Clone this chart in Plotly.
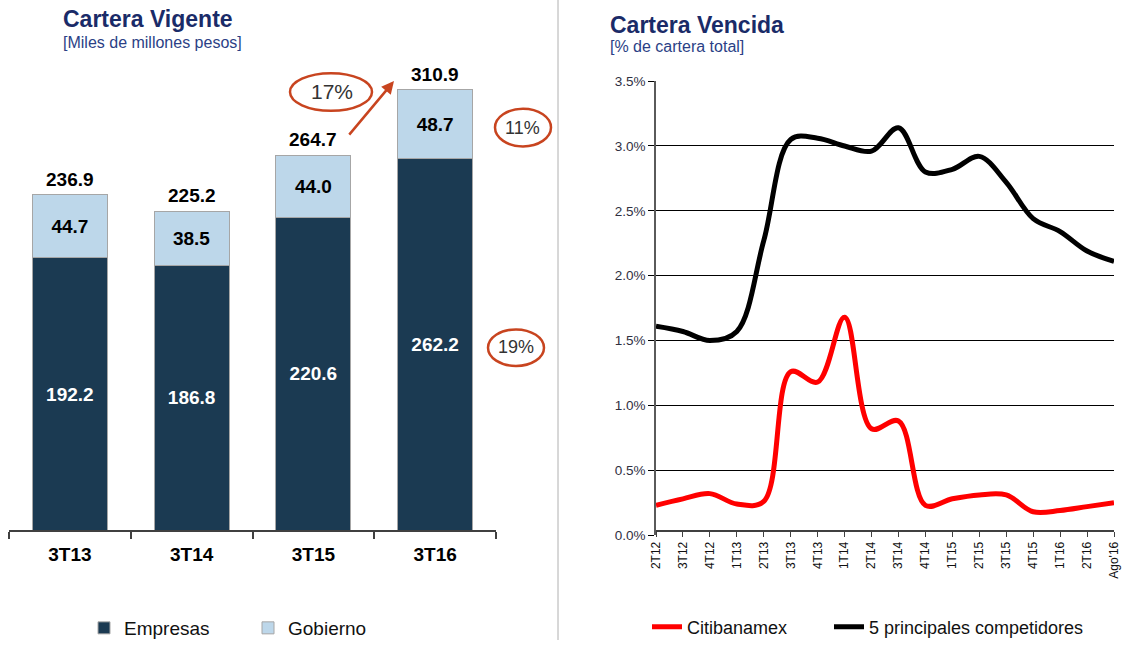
import plotly.graph_objects as go

# ---------------- data ----------------
quarters = ["3T13", "3T14", "3T15", "3T16"]
empresas = [192.2, 186.8, 220.6, 262.2]
gobierno = [44.7, 38.5, 44.0, 48.7]
totales = [236.9, 225.2, 264.7, 310.9]

periods = ["2T12", "3T12", "4T12", "1T13", "2T13", "3T13", "4T13", "1T14", "2T14",
           "3T14", "4T14", "1T15", "2T15", "3T15", "4T15", "1T16", "2T16", "Ago'16"]
citibanamex = [0.23, 0.28, 0.32, 0.24, 0.26, 1.26, 1.18, 1.68, 0.82,
               0.88, 0.23, 0.28, 0.31, 0.31, 0.18, 0.19, 0.22, 0.25]
competidores = [1.61, 1.57, 1.50, 1.57, 2.27, 3.05, 3.06, 3.00, 2.96,
                3.14, 2.80, 2.82, 2.92, 2.72, 2.44, 2.34, 2.19, 2.11]

y_ticks = [0.0, 0.5, 1.0, 1.5, 2.0, 2.5, 3.0, 3.5]

# ---------------- layout helpers ----------------
W, H = 1125, 647
def px(x):
    return x / W
def py(y):
    return 1 - y / H

FONT = "Liberation Sans, Arial, sans-serif"
DARK = "#1b3a52"
LIGHT = "#bdd7ea"
ORANGE = "#c8441f"
NAVY = "#1a2b68"
SUBNAVY = "#2b3f86"

fig = go.Figure()

# ---------------- left: stacked bars ----------------
fig.add_trace(go.Bar(
    x=quarters, y=empresas, name="Empresas",
    marker=dict(color=DARK, line=dict(color="#a6a6a6", width=1)),
    width=0.615,
    texttemplate="<b>%{y:.1f}</b>", textposition="inside", insidetextanchor="middle",
    textfont=dict(color="white", size=19, family=FONT), constraintext="none",
    xaxis="x", yaxis="y", legend="legend",
))
fig.add_trace(go.Bar(
    x=quarters, y=gobierno, name="Gobierno",
    marker=dict(color=LIGHT, line=dict(color="#a6a6a6", width=1)),
    width=0.615,
    texttemplate="<b>%{y:.1f}</b>", textposition="inside", insidetextanchor="middle",
    textfont=dict(color="black", size=19, family=FONT), constraintext="none",
    xaxis="x", yaxis="y", legend="legend",
))

annotations = []
for q, t in zip(quarters, totales):
    annotations.append(dict(
        x=q, y=t, xref="x", yref="y", text=f"<b>{t:.1f}</b>", showarrow=False,
        xanchor="center", yanchor="bottom", yshift=3,
        font=dict(size=19, color="black", family=FONT)))

# ---------------- right: lines ----------------
fig.add_trace(go.Scatter(
    x=periods, y=citibanamex, name="Citibanamex", mode="lines",
    line=dict(color="#ff0000", width=5, shape="spline", smoothing=1.0),
    xaxis="x2", yaxis="y2", legend="legend2",
))
fig.add_trace(go.Scatter(
    x=periods, y=competidores, name="5 principales competidores", mode="lines",
    line=dict(color="#000000", width=5, shape="spline", smoothing=1.0),
    xaxis="x2", yaxis="y2", legend="legend3",
))

# ---------------- titles ----------------
annotations += [
    dict(x=px(61), y=py(4), xref="paper", yref="paper", xanchor="left", yanchor="top",
         text="<b>Cartera Vigente</b>", showarrow=False,
         font=dict(size=23, color=NAVY, family=FONT)),
    dict(x=px(61), y=py(32), xref="paper", yref="paper", xanchor="left", yanchor="top",
         text="[Miles de millones pesos]", showarrow=False,
         font=dict(size=16, color=SUBNAVY, family=FONT)),
    dict(x=px(608), y=py(10), xref="paper", yref="paper", xanchor="left", yanchor="top",
         text="<b>Cartera Vencida</b>", showarrow=False,
         font=dict(size=23, color=NAVY, family=FONT)),
    dict(x=px(608), y=py(36), xref="paper", yref="paper", xanchor="left", yanchor="top",
         text="[% de cartera total]", showarrow=False,
         font=dict(size=16, color=SUBNAVY, family=FONT)),
]

# growth callouts
callouts = [("17%", 332, 92, 21), ("11%", 522, 129, 18), ("19%", 516, 351, 18)]
for txt, cx, cy, fs in callouts:
    annotations.append(dict(x=px(cx), y=py(cy), xref="paper", yref="paper",
                            xanchor="center", yanchor="middle",
                            text=txt, showarrow=False,
                            font=dict(size=fs, color="#333333", family=FONT)))
annotations.append(dict(x=px(394), y=py(82), xref="paper", yref="paper", text="",
                        showarrow=True, ax=-46, ay=55, arrowhead=2, arrowsize=1,
                        arrowwidth=2.5, arrowcolor=ORANGE))

shapes = [
    dict(type="circle", xref="paper", yref="paper",
         x0=px(290), x1=px(372), y0=py(112), y1=py(74), line=dict(color=ORANGE, width=2.5)),
    dict(type="circle", xref="paper", yref="paper",
         x0=px(495), x1=px(551), y0=py(148), y1=py(110), line=dict(color=ORANGE, width=2.5)),
    dict(type="circle", xref="paper", yref="paper",
         x0=px(488), x1=px(544), y0=py(370), y1=py(333), line=dict(color=ORANGE, width=2.5)),
    dict(type="line", xref="paper", yref="paper",
         x0=px(558), x1=px(558), y0=0, y1=1, line=dict(color="#b0b0b0", width=1)),
]

# ---------------- axes ----------------
base_px, top_px, dom_top = 536, 90.7, 60     # baseline, top of tallest bar, top of area
k_left = (base_px - top_px) / max(totales)
leg = dict(orientation="h", yanchor="middle", xanchor="left",
           bgcolor="rgba(0,0,0,0)", traceorder="normal")
fig.update_layout(
    width=W, height=H, autosize=False,
    margin=dict(l=0, r=0, t=0, b=0, pad=0),
    paper_bgcolor="white", plot_bgcolor="white",
    barmode="stack",
    font=dict(family=FONT, color="black"),
    xaxis=dict(domain=[px(9), px(496)], type="category", range=[-0.5, 3.5],
               showline=True, linecolor="#404040", linewidth=1.5,
               ticks="outside", tickson="boundaries", ticklen=7, tickwidth=1.5,
               tickcolor="#404040", showgrid=False, zeroline=False, automargin=False,
               tickfont=dict(size=19, color="black", family=FONT, weight="bold"),
               ticklabelstandoff=6, fixedrange=True),
    yaxis=dict(domain=[py(base_px), py(dom_top)],
               range=[0, (base_px - dom_top) / k_left],
               visible=False, showgrid=False, zeroline=False, automargin=False),
    xaxis2=dict(domain=[px(656), px(1114)], type="category", range=[0, 17],
                showline=True, linecolor="#404040", linewidth=1.5,
                ticks="outside", ticklen=5, tickwidth=1, tickcolor="#404040",
                tickangle=-90, showgrid=False, zeroline=False, automargin=False,
                tickfont=dict(size=12, color="#111111", family=FONT)),
    yaxis2=dict(domain=[py(541), py(82)], range=[0, 3.5], anchor="x2",
                tickvals=y_ticks, ticktext=[f"{v:.1f}%" for v in y_ticks],
                showline=True, linecolor="#5a5a5a", linewidth=1.5,
                ticks="outside", ticklen=6, tickwidth=1, tickcolor="#000000",
                showgrid=True, gridcolor="#000000", gridwidth=1, zeroline=False,
                automargin=False,
                tickfont=dict(size=13.5, color="#2f2f3f", family=FONT)),
    legend=dict(leg, x=px(84), y=py(635), entrywidth=119,
                font=dict(size=19, family=FONT, color="#111111")),
    legend2=dict(leg, x=px(647), y=py(634),
                 font=dict(size=18, family=FONT, color="#111111")),
    legend3=dict(leg, x=px(829), y=py(634),
                 font=dict(size=18, family=FONT, color="#111111")),
    annotations=annotations,
    shapes=shapes,
    showlegend=True,
)

# page without default body margin, figure at the top-left corner
post = (
    "document.documentElement.style.margin='0';"
    "document.documentElement.style.overflow='hidden';"
    "document.body.style.margin='0';"
    "document.body.style.padding='0';"
    "document.body.style.overflow='hidden';"
    "var gd=document.getElementById('{plot_id}');"
    "Plotly.relayout(gd,{width:1125,height:647});"
)

fig.write_html("out.html", config={"responsive": False, "displayModeBar": False},
               post_script=post)
